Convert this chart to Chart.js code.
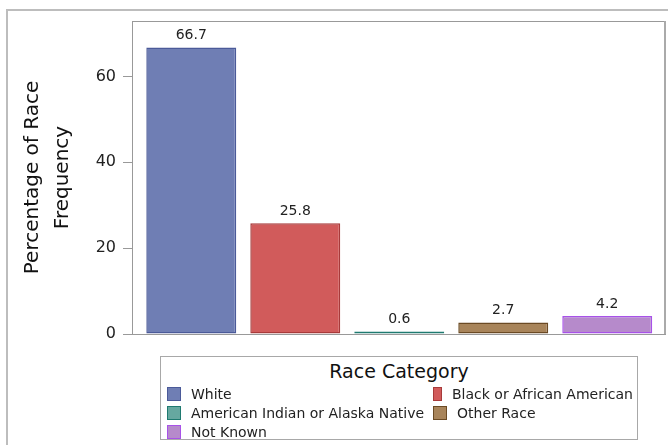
<!DOCTYPE html>
<html>
<head>
<meta charset="utf-8">
<script src="https://cdn.jsdelivr.net/npm/chart.js@4.4.1/dist/chart.umd.min.js"></script>
<style>
  body { margin: 0; background: #fff; font-family: "DejaVu Sans", sans-serif; }
  #wrap { position: relative; width: 668px; height: 445px; overflow: hidden; }
  #outer { position: absolute; left: 6px; top: 9px; width: 720px; height: 500px; border: 2px solid #bdbdbd; }
  canvas { position: absolute; left: 0; top: 0; }
  #legend { position: absolute; left: 160px; top: 356px; width: 476px; height: 82px; border: 1px solid #a8a8a8; background: #fff; }
  #legend .title { text-align: center; font-size: 19px; color: #111; margin-top: 3px; line-height: 22px; }
  #legend .items { position: absolute; left: 6px; top: 27px; display: grid; grid-template-columns: 266px 200px; grid-auto-rows: 19px; }
  #legend .item { display: flex; align-items: center; font-size: 14px; color: #222; white-space: nowrap; }
  #legend .sw { width: 12px; height: 12px; border: 1.5px solid; margin-right: 10px; }
</style>
</head>
<body>
<div id="wrap">
  <div id="outer"></div>
  <canvas id="chart" width="668" height="445"></canvas>
  <div id="legend"><div class="title">Race Category</div><div class="items" id="items"></div></div>
</div>
<script>
// Race categories and their percentages
const categories = ['White', 'Black or African American', 'American Indian or Alaska Native', 'Other Race', 'Not Known'];
const percentages = [66.7, 25.8, 0.6, 2.7, 4.2];
const yTicks = [0, 20, 40, 60];
const fillColors = ['#6f7eb4', '#d15b5b', '#66a8a0', '#a8845a', '#b68acb'];
const edgeColors = ['#4b5a99', '#a83a3a', '#1f7a70', '#6b4a24', '#a852e8'];

// One dataset per category so each bar gets its own colour
const datasets = categories.map((name, i) => ({
    label: name,
    data: [{ x: i, y: percentages[i] }],
    backgroundColor: fillColors[i],
    borderColor: edgeColors[i],
    borderWidth: 1.5,
    borderSkipped: false,
    grouped: false,
    categoryPercentage: 1,
    barPercentage: 0.865,
}));

// Frame, axis title and value labels
const decorations = {
    id: 'decorations',
    afterDatasetsDraw(chart) {
        const ctx = chart.ctx;
        const a = chart.chartArea;
        ctx.save();
        ctx.font = '14px "DejaVu Sans"';
        ctx.fillStyle = '#222';
        ctx.textAlign = 'center';
        ctx.textBaseline = 'bottom';
        chart.data.datasets.forEach((ds, i) => {
            const bar = chart.getDatasetMeta(i).data[0];
            ctx.fillText(percentages[i].toFixed(1), bar.x, bar.y - 5);
        });
        ctx.strokeStyle = '#999';
        ctx.lineWidth = 1;
        ctx.strokeRect(Math.round(a.left) + 0.5, Math.round(a.top) + 0.5,
            Math.round(a.right - a.left) - 1, Math.round(a.bottom - a.top));
        ctx.strokeStyle = '#aaa';
        ctx.lineWidth = 2;
        ctx.beginPath();
        ctx.moveTo(a.right - 1, a.top);
        ctx.lineTo(a.right - 1, a.bottom);
        ctx.stroke();

        ctx.fillStyle = '#111';
        ctx.font = '20px "DejaVu Sans"';
        ctx.textBaseline = 'middle';
        const cy = (a.top + a.bottom) / 2;
        ctx.translate(33, cy);
        ctx.rotate(-Math.PI / 2);
        ctx.fillText('Percentage of Race', 0, 0);
        ctx.fillText('Frequency', 0, 30);
        ctx.restore();
    }
};

const chart = new Chart(document.getElementById('chart'), {
    type: 'bar',
    data: { datasets: datasets },
    options: {
        responsive: false,
        animation: false,
        layout: { padding: { top: 21, right: 2, bottom: 111, left: 0 } },
        plugins: { legend: { display: false }, tooltip: { enabled: false } },
        scales: {
            x: {
                type: 'linear',
                min: -0.57,
                max: 4.565,
                offset: false,
                display: false,
                afterBuildTicks(scale) { scale.ticks = categories.map((c, i) => ({ value: i })); },
            },
            y: {
                min: 0,
                max: 72.9,
                afterFit(scale) { scale.width = 132; },
                afterBuildTicks(scale) { scale.ticks = yTicks.map(v => ({ value: v })); },
                border: { display: false },
                grid: { drawOnChartArea: false, tickLength: 9, color: '#999' },
                ticks: { padding: 7, color: '#222', font: { family: 'DejaVu Sans', size: 16 } },
            },
        },
    },
    plugins: [decorations],
});

// Two-column legend built from the same arrays
const items = document.getElementById('items');
categories.forEach((name, i) => {
    const el = document.createElement('div');
    el.className = 'item';
    el.innerHTML = '<span class="sw" style="background:' + fillColors[i] + ';border-color:' + edgeColors[i] + '"></span>' + name;
    items.appendChild(el);
});
</script>
</body>
</html>
